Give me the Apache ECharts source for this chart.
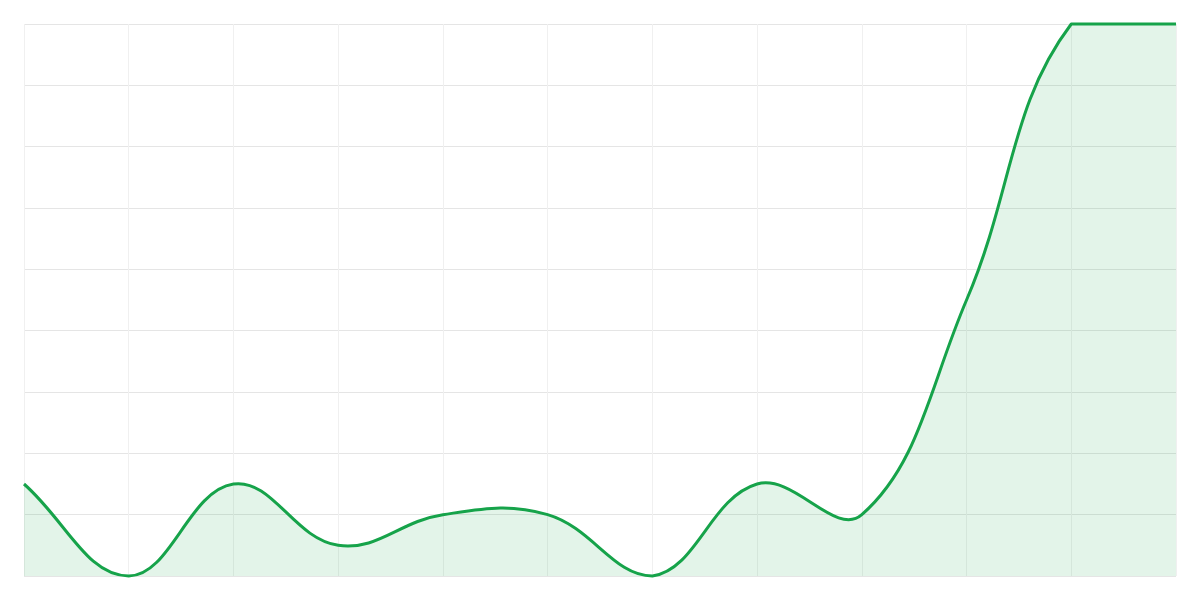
<!DOCTYPE html>
<html>
<head>
<meta charset="utf-8">
<script src="https://cdn.jsdelivr.net/npm/echarts@6/dist/echarts.min.js"></script>
<style>
html,body{margin:0;padding:0;background:#fff;}
#chart{width:1200px;height:600px;}
</style>
</head>
<body>
<div id="chart"></div>
<script>
const categories = ['1','2','3','4','5','6','7','8','9','10','11','12'];
const values = [15, 0, 15, 5, 10, 10, 0, 15, 10, 45, 90, 90];
const yMin = 0;
const yMax = 90;
const yInterval = 10;

const TENSION = 0.4;
const LINE_COLOR = '#16a34a';
const AREA_COLOR = 'rgba(22,163,74,0.12)';

function renderCurve(params, api) {
  if (params.dataIndex !== 0) return null;
  const cs = params.coordSys;
  const left = cs.x, top = cs.y, right = cs.x + cs.width, bottom = cs.y + cs.height;
  const pts = values.map((v, k) => api.coord([k, v]));
  const n = pts.length;
  const cpIn = [], cpOut = [];
  const clampX = v => Math.max(left, Math.min(right, v));
  const clampY = v => Math.max(top, Math.min(bottom, v));
  for (let j = 0; j < n; j++) {
    const cur = pts[j];
    const prev = j > 0 ? pts[j - 1] : cur;
    const next = j < n - 1 ? pts[j + 1] : cur;
    const d01 = Math.hypot(cur[0] - prev[0], cur[1] - prev[1]);
    const d12 = Math.hypot(next[0] - cur[0], next[1] - cur[1]);
    let s01 = d01 / (d01 + d12);
    let s12 = d12 / (d01 + d12);
    if (!isFinite(s01)) s01 = 0;
    if (!isFinite(s12)) s12 = 0;
    const fa = TENSION * s01, fb = TENSION * s12;
    const vx = next[0] - prev[0], vy = next[1] - prev[1];
    cpIn.push([clampX(cur[0] - fa * vx), clampY(cur[1] - fa * vy)]);
    cpOut.push([clampX(cur[0] + fb * vx), clampY(cur[1] + fb * vy)]);
  }
  let d = 'M' + pts[0][0] + ' ' + pts[0][1];
  for (let j = 0; j < n - 1; j++) {
    d += ' C' + cpOut[j][0] + ' ' + cpOut[j][1] + ' ' + cpIn[j + 1][0] + ' ' + cpIn[j + 1][1] + ' ' + pts[j + 1][0] + ' ' + pts[j + 1][1];
  }
  const base = api.coord([0, yMin])[1];
  const area = d + ' L' + pts[n - 1][0] + ' ' + base + ' L' + pts[0][0] + ' ' + base + ' Z';
  return {
    type: 'group',
    children: [
      { type: 'path', shape: { pathData: area }, style: { fill: AREA_COLOR, stroke: null } },
      { type: 'path', shape: { pathData: d }, style: { fill: null, stroke: LINE_COLOR, lineWidth: 3, lineJoin: 'round', lineCap: 'butt' } }
    ]
  };
}

const chart = echarts.init(document.getElementById('chart'));
chart.setOption({
  animation: false,
  grid: { left: 24, right: 24, top: 24, bottom: 24, containLabel: false },
  xAxis: {
    type: 'category',
    data: categories,
    boundaryGap: false,
    axisLabel: { show: false },
    axisTick: { show: false },
    axisLine: { show: false },
    splitLine: { show: true, lineStyle: { color: '#f0f0f0', width: 1 } }
  },
  yAxis: {
    type: 'value',
    min: yMin,
    max: yMax,
    interval: yInterval,
    axisLabel: { show: false },
    axisTick: { show: false },
    axisLine: { show: false },
    splitLine: { show: true, lineStyle: { color: '#e5e5e5', width: 1 } }
  },
  series: [{
    type: 'custom',
    clip: false,
    data: values.map((v, i) => [i, v]),
    encode: { x: 0, y: 1 },
    renderItem: renderCurve
  }]
});
</script>
</body>
</html>
